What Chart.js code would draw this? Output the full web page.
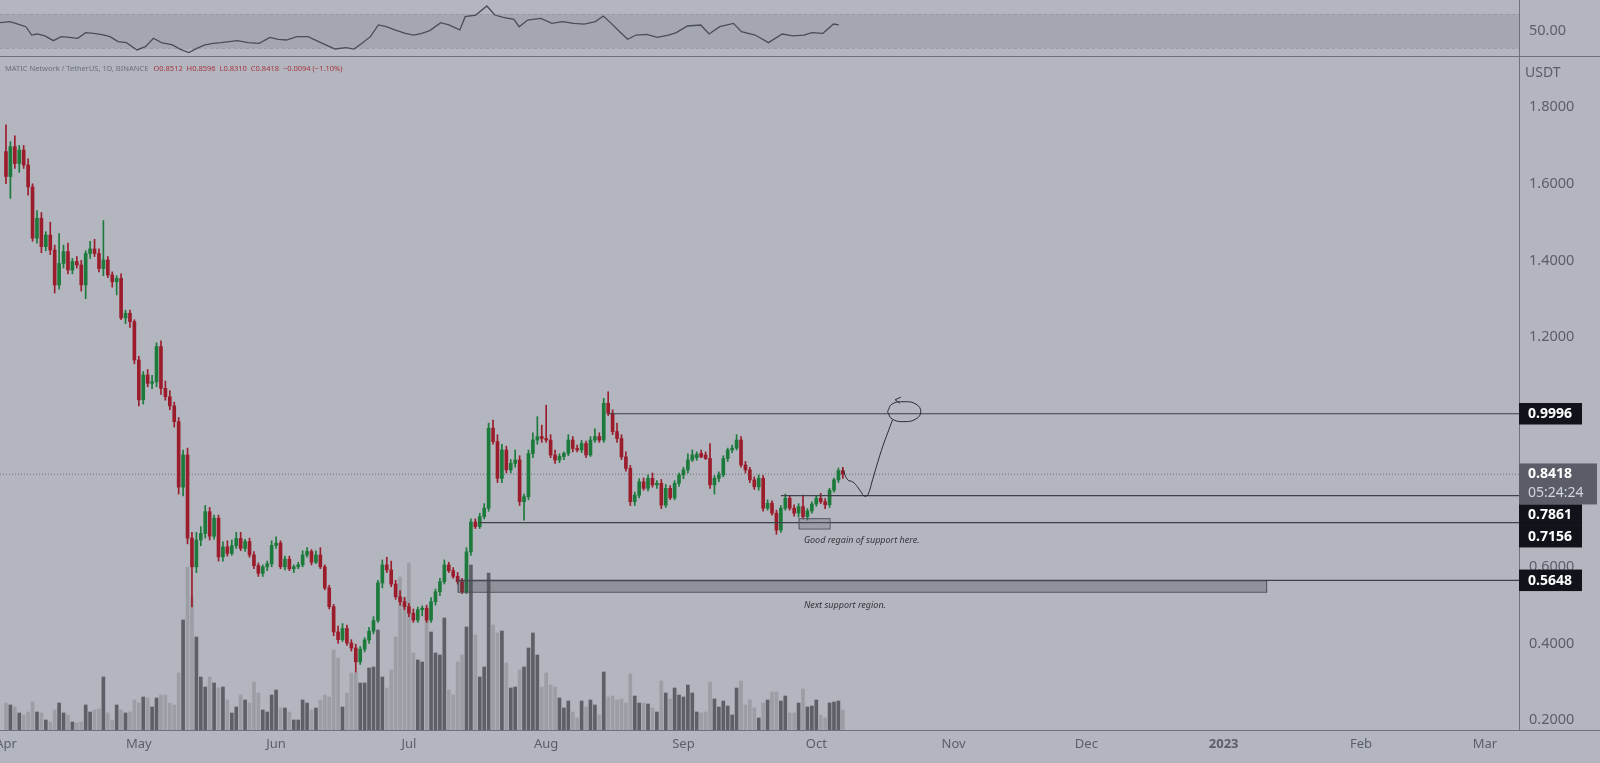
<!DOCTYPE html>
<html>
<head>
<meta charset="utf-8">
<title>MATIC / USDT 1D</title>
<script src="https://cdn.jsdelivr.net/npm/chart.js@4.4.1/dist/chart.umd.min.js"></script>
<style>
  body { margin: 0; background: #b3b5bf; }
  #page { position: relative; width: 1600px; height: 763px; overflow: hidden; background: #b3b5bf; }
  #rsiChart { position: absolute; left: 0; top: 0; }
  #mainChart { position: absolute; left: 0; top: 57px; }
  .legend { position: absolute; left: 5px; top: 63px; font: 7.5px 'Noto Sans', sans-serif; color: #6c6f7a; white-space: nowrap; }
  .legend .ohlc { color: #a73542; margin-left: 5px; }
  .unit { position: absolute; left: 1525px; top: 62px; font: 14px 'Noto Sans', sans-serif; color: #5a5d68; }
</style>
</head>
<body>
<div id="page">
  <canvas id="rsiChart" width="1600" height="57"></canvas>
  <canvas id="mainChart" width="1600" height="706"></canvas>
  <div class="legend">MATIC Network / TetherUS, 1D, BINANCE<span class="ohlc">O0.8512&nbsp; H0.8596&nbsp; L0.8310&nbsp; C0.8418&nbsp; −0.0094 (−1.10%)</span></div>
  <div class="unit">USDT</div>
</div>
<script>
// daily candles, index 0 = 1 Apr 2022
const monthTicks = [0, 30, 61, 91, 122, 153, 183, 214, 244, 275, 306, 334];
const monthLabels = ['Apr', 'May', 'Jun', 'Jul', 'Aug', 'Sep', 'Oct', 'Nov', 'Dec', '2023', 'Feb', 'Mar'];
const priceTicks = [0.2, 0.4, 0.6, 0.8, 1.0, 1.2, 1.4, 1.6, 1.8];
const rsiTicks = [50];

const opens = [
  1.684, 1.619, 1.697, 1.653, 1.688, 1.649, 1.592, 1.458, 1.510, 1.436,
  1.466, 1.427, 1.336, 1.392, 1.423, 1.375, 1.397, 1.388, 1.336, 1.418,
  1.430, 1.418, 1.379, 1.401, 1.362, 1.344, 1.353, 1.250, 1.262, 1.240,
  1.140, 1.036, 1.101, 1.079, 1.083, 1.175, 1.066, 1.044, 1.020, 0.979,
  0.808, 0.892, 0.675, 0.600, 0.670, 0.687, 0.744, 0.680, 0.727, 0.626,
  0.652, 0.635, 0.655, 0.674, 0.648, 0.666, 0.631, 0.603, 0.583, 0.600,
  0.608, 0.656, 0.662, 0.600, 0.620, 0.595, 0.600, 0.605, 0.631, 0.640,
  0.612, 0.631, 0.600, 0.545, 0.496, 0.430, 0.410, 0.439, 0.401, 0.388,
  0.352, 0.385, 0.409, 0.432, 0.460, 0.558, 0.605, 0.592, 0.555, 0.522,
  0.509, 0.496, 0.479, 0.461, 0.488, 0.492, 0.461, 0.509, 0.535, 0.561,
  0.605, 0.590, 0.575, 0.561, 0.535, 0.639, 0.717, 0.705, 0.731, 0.753,
  0.962, 0.927, 0.831, 0.905, 0.853, 0.870, 0.879, 0.770, 0.783, 0.896,
  0.931, 0.940, 0.935, 0.931, 0.892, 0.879, 0.888, 0.896, 0.931, 0.909,
  0.905, 0.922, 0.892, 0.931, 0.940, 0.931, 1.027, 1.001, 0.953, 0.935,
  0.887, 0.857, 0.770, 0.787, 0.822, 0.805, 0.831, 0.814, 0.818, 0.761,
  0.805, 0.780, 0.818, 0.840, 0.853, 0.879, 0.885, 0.896, 0.892, 0.883,
  0.814, 0.831, 0.840, 0.883, 0.905, 0.910, 0.931, 0.866, 0.853, 0.827,
  0.809, 0.831, 0.753, 0.766, 0.740, 0.696, 0.753, 0.779, 0.753, 0.740,
  0.757, 0.731, 0.746, 0.764, 0.779, 0.770, 0.762, 0.800, 0.827, 0.8512
];
const highs = [
  1.754, 1.710, 1.725, 1.700, 1.700, 1.665, 1.600, 1.530, 1.525, 1.475,
  1.500, 1.440, 1.470, 1.440, 1.445, 1.405, 1.410, 1.400, 1.425, 1.450,
  1.455, 1.430, 1.504, 1.410, 1.370, 1.360, 1.365, 1.270, 1.270, 1.245,
  1.150, 1.110, 1.115, 1.100, 1.185, 1.190, 1.085, 1.060, 1.030, 0.990,
  0.905, 0.910, 0.690, 0.690, 0.705, 0.760, 0.755, 0.735, 0.735, 0.665,
  0.668, 0.670, 0.690, 0.690, 0.672, 0.675, 0.640, 0.610, 0.605, 0.615,
  0.668, 0.678, 0.668, 0.628, 0.628, 0.605, 0.612, 0.642, 0.650, 0.645,
  0.642, 0.650, 0.605, 0.552, 0.502, 0.445, 0.452, 0.448, 0.410, 0.398,
  0.392, 0.415, 0.442, 0.470, 0.565, 0.618, 0.625, 0.615, 0.565, 0.538,
  0.520, 0.505, 0.490, 0.495, 0.498, 0.500, 0.520, 0.542, 0.570, 0.618,
  0.612, 0.598, 0.585, 0.570, 0.650, 0.725, 0.725, 0.740, 0.765, 0.975,
  0.983, 0.945, 0.920, 0.915, 0.880, 0.905, 0.890, 0.790, 0.905, 0.950,
  0.992, 0.970, 1.022, 0.945, 0.905, 0.895, 0.900, 0.945, 0.940, 0.918,
  0.930, 0.928, 0.940, 0.960, 0.950, 1.040, 1.057, 1.010, 0.975, 0.945,
  0.900, 0.865, 0.795, 0.830, 0.832, 0.840, 0.845, 0.825, 0.828, 0.815,
  0.812, 0.825, 0.845, 0.860, 0.895, 0.905, 0.900, 0.905, 0.900, 0.922,
  0.838, 0.848, 0.890, 0.910, 0.918, 0.945, 0.940, 0.875, 0.860, 0.835,
  0.840, 0.838, 0.775, 0.772, 0.748, 0.760, 0.790, 0.785, 0.762, 0.765,
  0.787, 0.752, 0.770, 0.785, 0.792, 0.778, 0.805, 0.832, 0.858, 0.8596
];
const lows = [
  1.600, 1.562, 1.640, 1.630, 1.640, 1.570, 1.450, 1.445, 1.420, 1.425,
  1.415, 1.315, 1.325, 1.380, 1.365, 1.365, 1.380, 1.320, 1.300, 1.405,
  1.410, 1.370, 1.360, 1.355, 1.330, 1.310, 1.245, 1.235, 1.225, 1.130,
  1.020, 1.025, 1.070, 1.065, 1.070, 1.050, 1.035, 1.010, 0.965, 0.790,
  0.785, 0.660, 0.495, 0.585, 0.655, 0.675, 0.670, 0.672, 0.615, 0.615,
  0.628, 0.630, 0.648, 0.642, 0.640, 0.625, 0.595, 0.575, 0.575, 0.590,
  0.600, 0.648, 0.595, 0.592, 0.590, 0.585, 0.595, 0.600, 0.625, 0.605,
  0.608, 0.595, 0.540, 0.490, 0.420, 0.400, 0.405, 0.395, 0.380, 0.325,
  0.345, 0.378, 0.400, 0.425, 0.455, 0.545, 0.585, 0.548, 0.515, 0.500,
  0.488, 0.470, 0.455, 0.455, 0.472, 0.455, 0.455, 0.500, 0.525, 0.555,
  0.585, 0.570, 0.555, 0.530, 0.530, 0.630, 0.700, 0.700, 0.725, 0.745,
  0.920, 0.820, 0.820, 0.845, 0.845, 0.860, 0.760, 0.722, 0.775, 0.885,
  0.920, 0.925, 0.925, 0.885, 0.870, 0.872, 0.880, 0.890, 0.900, 0.900,
  0.898, 0.885, 0.888, 0.925, 0.925, 0.925, 0.995, 0.945, 0.925, 0.880,
  0.850, 0.760, 0.760, 0.780, 0.800, 0.798, 0.808, 0.805, 0.752, 0.755,
  0.775, 0.775, 0.810, 0.830, 0.845, 0.875, 0.878, 0.885, 0.880, 0.805,
  0.790, 0.822, 0.835, 0.875, 0.898, 0.905, 0.860, 0.845, 0.820, 0.802,
  0.800, 0.745, 0.748, 0.735, 0.685, 0.690, 0.748, 0.748, 0.732, 0.730,
  0.725, 0.722, 0.740, 0.758, 0.765, 0.752, 0.755, 0.795, 0.820, 0.8310
];
const closes = [
  1.619, 1.697, 1.653, 1.688, 1.649, 1.592, 1.458, 1.510, 1.436, 1.466,
  1.427, 1.336, 1.392, 1.423, 1.375, 1.397, 1.388, 1.336, 1.418, 1.430,
  1.418, 1.379, 1.401, 1.362, 1.344, 1.353, 1.250, 1.262, 1.240, 1.140,
  1.036, 1.101, 1.079, 1.083, 1.175, 1.066, 1.044, 1.020, 0.979, 0.808,
  0.892, 0.675, 0.600, 0.670, 0.687, 0.744, 0.680, 0.727, 0.626, 0.652,
  0.635, 0.655, 0.674, 0.648, 0.666, 0.631, 0.603, 0.583, 0.600, 0.608,
  0.656, 0.662, 0.600, 0.620, 0.595, 0.600, 0.605, 0.631, 0.640, 0.612,
  0.631, 0.600, 0.545, 0.496, 0.430, 0.410, 0.439, 0.401, 0.388, 0.352,
  0.385, 0.409, 0.432, 0.460, 0.558, 0.605, 0.592, 0.555, 0.522, 0.509,
  0.496, 0.479, 0.461, 0.488, 0.492, 0.461, 0.509, 0.535, 0.561, 0.605,
  0.590, 0.575, 0.561, 0.535, 0.639, 0.717, 0.705, 0.731, 0.753, 0.962,
  0.927, 0.831, 0.905, 0.853, 0.870, 0.879, 0.770, 0.783, 0.896, 0.931,
  0.940, 0.935, 0.931, 0.892, 0.879, 0.888, 0.896, 0.931, 0.909, 0.905,
  0.922, 0.892, 0.931, 0.940, 0.931, 1.027, 1.001, 0.953, 0.935, 0.887,
  0.857, 0.770, 0.787, 0.822, 0.805, 0.831, 0.814, 0.818, 0.761, 0.805,
  0.780, 0.818, 0.840, 0.853, 0.879, 0.892, 0.894, 0.887, 0.883, 0.814,
  0.831, 0.840, 0.883, 0.905, 0.910, 0.931, 0.866, 0.853, 0.827, 0.809,
  0.831, 0.753, 0.766, 0.740, 0.696, 0.753, 0.779, 0.753, 0.740, 0.757,
  0.731, 0.746, 0.764, 0.779, 0.770, 0.762, 0.800, 0.827, 0.8512, 0.8418
];
// volume, millions MATIC
const volumes = [
  108, 100, 92, 68, 60, 72, 112, 72, 68, 40,
  32, 80, 108, 68, 60, 32, 28, 32, 100, 72,
  80, 84, 212, 68, 40, 100, 80, 68, 72, 120,
  108, 132, 128, 92, 128, 140, 140, 108, 100, 228,
  440, 652, 532, 372, 212, 172, 212, 188, 168, 172,
  120, 68, 92, 140, 120, 108, 192, 148, 80, 72,
  140, 160, 88, 88, 72, 40, 40, 120, 108, 80,
  88, 120, 140, 132, 320, 288, 92, 148, 228, 228,
  188, 188, 248, 252, 400, 212, 168, 240, 372, 612,
  532, 668, 308, 280, 272, 472, 392, 308, 300, 448,
  160, 140, 272, 300, 412, 660, 380, 212, 252, 628,
  420, 388, 396, 268, 168, 172, 240, 252, 328, 388,
  300, 172, 228, 180, 172, 128, 88, 116, 72, 48,
  116, 92, 120, 100, 60, 232, 132, 136, 120, 124,
  108, 224, 136, 108, 108, 104, 88, 72, 196, 148,
  124, 168, 140, 132, 180, 148, 72, 68, 72, 192,
  124, 92, 116, 96, 60, 168, 196, 100, 120, 88,
  48, 108, 120, 152, 152, 116, 136, 68, 68, 108,
  164, 92, 96, 120, 60, 48, 108, 112, 116, 80
];

// RSI(14)
const rsiDays = [
  -1.6, 0.9, 2.7, 4.5, 5.8, 7.0, 8.8, 10.7, 12.5, 14.3, 16.2, 18.0, 19.8, 21.7, 23.5, 25.3,
  27.2, 29.6, 31.5, 33.3, 35.1, 37.6, 39.4, 41.3, 43.1, 44.9, 46.8, 48.6, 50.4, 52.3, 54.7,
  57.2, 59.6, 61.5, 63.3, 65.7, 68.2, 70.6, 73.1, 74.3, 76.8, 78.6, 80.4, 82.3, 84.1, 85.9,
  87.8, 90.2, 92.1, 93.9, 95.7, 98.2, 100, 102.5, 103.7, 106.1, 108.6, 110.4, 112.3, 114.7,
  115.9, 117.8, 120.8, 123.3, 125.7, 128.2, 130.6, 133.1, 134.9, 136.7, 138.6, 140.4, 142.3,
  144.7, 147.1, 149.6, 151.4, 153.9, 156.9, 158.8, 161.2, 164.3, 166.1, 169.2, 172.2, 175.3,
  177.7, 180.2, 182, 184.5, 186.9, 188.1
];
const rsiValues = [
  59.9, 61.1, 58.3, 55.2, 45.5, 46.7, 44.4, 38.9, 43.6, 42.8, 41.7, 48.3, 47.5, 45.9, 43.6, 37.8,
  36.6, 28.1, 31.9, 41.7, 36.6, 33.9, 28.8, 25.0, 30.0, 33.9, 35.8, 36.6, 37.8, 38.9, 36.6,
  35.8, 42.8, 40.5, 39.7, 43.6, 43.6, 37.8, 31.9, 29.2, 30.8, 29.2, 35.8, 43.6, 57.2, 55.2,
  51.4, 47.5, 45.5, 47.5, 50.6, 59.9, 57.2, 51.4, 66.9, 68.8, 79.3, 68.8, 66.1, 63.8,
  55.2, 63.0, 64.9, 59.1, 61.1, 59.1, 58.3, 61.1, 67.7, 59.1, 49.4, 40.5, 45.5,
  46.3, 42.8, 45.5, 48.3, 56.0, 57.2, 46.7, 55.2, 59.1, 49.4, 45.5, 36.6, 46.7,
  44.4, 45.5, 48.3, 47.5, 58.3, 57.2
];

// drawn levels and zones
const levelPrices = [0.9996, 0.7861, 0.7156, 0.5648];
const levelStarts = [136, 175, 107, 102];
const supportZone = [102, 284.6, 0.535, 0.5648];
const regainZone = [179, 186, 0.700, 0.727];
const notes = ['Good regain of support here.', 'Next support region.'];
const noteDays = [180.2, 180.2];
const notePrices = [0.670, 0.500];

// hand drawn projection
const projDays = [189.0, 190.1, 191.2, 192.3, 193.3, 193.8, 194.6, 195.7, 196.9, 198.0, 199.1, 200.2];
const projPrices = [0.853, 0.827, 0.822, 0.809, 0.792, 0.785, 0.787, 0.827, 0.874, 0.914, 0.949, 0.983];
const loopDays = [199.1, 200.1, 202.8, 205.5, 206.6, 205.5, 202.8, 200.1, 199.1];
const loopPrices = [1.005, 1.025, 1.031, 1.025, 1.005, 0.986, 0.979, 0.986, 1.005];
const arrowDays = [202.1, 200.8, 201.9];
const arrowPrices = [1.043, 1.036, 1.027];

const C = {
  text: '#5b5e69', axis: '#6f727d',
  up: '#1c7a3b', down: '#9b1d2b', volUp: '#5e6068', volDown: '#9c9ea6',
  level: '#3e4049', draw: '#2b2c33', label: '#11131b', live: '#5a5d68'
};
const X_MIN = -1.35, X_MAX = 341.7;
const n = closes.length;
const idx = closes.map((c, i) => i);
const isUp = i => closes[i] >= opens[i];
const font = { family: 'Noto Sans', size: 14.5 };

// keep the plot area flush with the canvas edges
function noPad(s) {
  s.paddingTop = 0; s.paddingBottom = 0; s.paddingLeft = 0; s.paddingRight = 0;
}

function lineSet(xs, ys, extra) {
  return Object.assign({
    type: 'line',
    data: xs.map((x, i) => ({ x: x, y: ys[i] })),
    borderColor: C.draw,
    borderWidth: 1,
    pointRadius: 0,
    fill: false,
    order: 0
  }, extra || {});
}

const overlay = {
  id: 'overlay',
  afterDatasetsDraw(chart) {
    const { ctx, scales: { x, y } } = chart;
    ctx.save();
    // support zone
    const zx0 = x.getPixelForValue(supportZone[0]), zx1 = x.getPixelForValue(supportZone[1]);
    const zy0 = y.getPixelForValue(supportZone[3]), zy1 = y.getPixelForValue(supportZone[2]);
    ctx.fillStyle = 'rgba(70,72,82,0.32)';
    ctx.fillRect(zx0, zy0, zx1 - zx0, zy1 - zy0);
    ctx.strokeStyle = '#4a4c55';
    ctx.lineWidth = 1;
    ctx.strokeRect(zx0 + 0.5, zy0 + 0.5, zx1 - zx0, zy1 - zy0);
    // regain box
    const rx0 = x.getPixelForValue(regainZone[0]), rx1 = x.getPixelForValue(regainZone[1]);
    const ry0 = y.getPixelForValue(regainZone[3]), ry1 = y.getPixelForValue(regainZone[2]);
    ctx.fillStyle = 'rgba(90,92,102,0.25)';
    ctx.fillRect(rx0, ry0, rx1 - rx0, ry1 - ry0);
    ctx.strokeStyle = '#555761';
    ctx.strokeRect(rx0 + 0.5, ry0 + 0.5, rx1 - rx0, ry1 - ry0);
    // notes
    ctx.fillStyle = '#34363d';
    ctx.font = 'italic 9px "Noto Sans"';
    ctx.textBaseline = 'middle';
    notes.forEach((t, i) => ctx.fillText(t, x.getPixelForValue(noteDays[i]), y.getPixelForValue(notePrices[i])));
    ctx.restore();
  },
  afterDraw(chart) {
    const { ctx, chartArea, scales: { y } } = chart;
    ctx.save();
    // bottom separator across the whole width
    ctx.strokeStyle = C.axis;
    ctx.lineWidth = 1;
    ctx.beginPath();
    ctx.moveTo(0, chartArea.bottom + 0.5);
    ctx.lineTo(chart.width, chartArea.bottom + 0.5);
    ctx.stroke();
    // price labels on the axis
    const tags = levelPrices.map(p => ({ price: p, bg: C.label, w: 63 }));
    tags.push({ price: closes[n - 1], bg: C.live, w: 78, sub: '05:24:24' });
    tags.sort((a, b) => b.price - a.price);
    let bottom = -Infinity;
    const x0 = chartArea.right;
    ctx.textBaseline = 'middle';
    tags.forEach(t => {
      const h = t.sub ? 41 : 21.5;
      let top = y.getPixelForValue(t.price) - 10.75;
      if (top < bottom) top = bottom;
      ctx.fillStyle = t.bg;
      ctx.fillRect(x0, top, t.w, h);
      ctx.fillStyle = '#ffffff';
      ctx.font = 'bold 14px "Noto Sans"';
      ctx.fillText(t.price.toFixed(4), x0 + 9, top + 11);
      if (t.sub) {
        ctx.fillStyle = '#d3d5dc';
        ctx.font = '14px "Noto Sans"';
        ctx.fillText(t.sub, x0 + 9, top + 30);
      }
      bottom = top + h;
    });
    ctx.restore();
  }
};

new Chart(document.getElementById('mainChart'), {
  type: 'bar',
  data: {
    datasets: [
      {
        data: idx.map(i => ({ x: i, y: volumes[i] })),
        yAxisID: 'yVol',
        backgroundColor: c => isUp(c.dataIndex) ? C.volUp : C.volDown,
        barThickness: 3,
        grouped: false,
        order: 5
      },
      {
        data: idx.map(i => ({ x: i, y: [lows[i], highs[i]] })),
        backgroundColor: c => isUp(c.dataIndex) ? C.up : C.down,
        barThickness: 1,
        grouped: false,
        order: 3
      },
      {
        data: idx.map(i => ({ x: i, y: [opens[i], closes[i]] })),
        backgroundColor: c => isUp(c.dataIndex) ? C.up : C.down,
        barThickness: 3,
        minBarLength: 1,
        grouped: false,
        order: 2
      },
      lineSet([X_MIN, X_MAX], [closes[n - 1], closes[n - 1]], { borderColor: 'rgba(80,82,92,0.7)', borderDash: [1, 2], order: 4 }),
      ...levelPrices.map((p, k) => lineSet([levelStarts[k], X_MAX], [p, p], { borderColor: C.level, borderWidth: 1.2, order: 1 })),
      lineSet(projDays, projPrices, { tension: 0.4 }),
      lineSet(loopDays, loopPrices, { tension: 0.45 }),
      lineSet(arrowDays, arrowPrices)
    ]
  },
  options: {
    responsive: false,
    animation: false,
    events: [],
    layout: { padding: 0 },
    plugins: { legend: { display: false }, tooltip: { enabled: false } },
    scales: {
      x: {
        type: 'linear', min: X_MIN, max: X_MAX, offset: false,
        grid: { display: false, drawTicks: false },
        border: { display: false },
        afterBuildTicks: s => { s.ticks = monthTicks.map(v => ({ value: v })); },
        afterFit: s => { s.height = 33; noPad(s); },
        ticks: {
          autoSkip: false, maxRotation: 0, padding: 6, color: C.text,
          font: c => ({ family: 'Noto Sans', size: 13, weight: c.tick && c.tick.value === 275 ? 'bold' : 'normal' }),
          callback: (v, i) => monthLabels[i]
        }
      },
      y: {
        position: 'right', min: 0.174, max: 1.931, beginAtZero: false,
        grid: { display: false, drawTicks: false },
        border: { display: true, color: C.axis },
        afterBuildTicks: s => { s.ticks = priceTicks.map(v => ({ value: v })); },
        afterFit: s => { s.width = 81; noPad(s); },
        ticks: { padding: 10, color: C.text, font: font, callback: v => v.toFixed(4) }
      },
      yVol: { display: false, min: 0, max: 2692 }
    }
  },
  plugins: [overlay]
});

const rsiBand = {
  id: 'rsiBand',
  beforeDatasetsDraw(chart) {
    const { ctx, chartArea, scales: { y } } = chart;
    const top = y.getPixelForValue(70), bot = y.getPixelForValue(30);
    ctx.save();
    ctx.fillStyle = 'rgba(105,108,122,0.2)';
    ctx.fillRect(chartArea.left, top, chartArea.right - chartArea.left, bot - top);
    ctx.strokeStyle = 'rgba(150,152,162,0.9)';
    ctx.setLineDash([3, 3]);
    ctx.lineWidth = 1;
    [top, bot].forEach(v => {
      ctx.beginPath();
      ctx.moveTo(chartArea.left, Math.round(v) + 0.5);
      ctx.lineTo(chartArea.right, Math.round(v) + 0.5);
      ctx.stroke();
    });
    ctx.restore();
  },
  afterDraw(chart) {
    const { ctx } = chart;
    ctx.save();
    ctx.strokeStyle = C.axis;
    ctx.lineWidth = 1;
    ctx.beginPath();
    ctx.moveTo(0, chart.height - 0.5);
    ctx.lineTo(chart.width, chart.height - 0.5);
    ctx.stroke();
    ctx.restore();
  }
};

new Chart(document.getElementById('rsiChart'), {
  type: 'scatter',
  data: {
    datasets: [{
      data: rsiDays.map((d, i) => ({ x: d, y: rsiValues[i] })),
      showLine: true,
      borderColor: '#4b4d56',
      borderWidth: 1.3,
      pointRadius: 0
    }]
  },
  options: {
    responsive: false,
    animation: false,
    events: [],
    layout: { padding: 0 },
    plugins: { legend: { display: false }, tooltip: { enabled: false } },
    scales: {
      x: { type: 'linear', display: false, min: X_MIN, max: X_MAX },
      y: {
        position: 'right', min: 19.9, max: 86.3,
        grid: { display: false, drawTicks: false },
        border: { display: true, color: C.axis },
        afterBuildTicks: s => { s.ticks = rsiTicks.map(v => ({ value: v })); },
        afterFit: s => { s.width = 81; noPad(s); },
        ticks: { padding: 10, color: C.text, font: font, callback: v => v.toFixed(2) }
      }
    }
  },
  plugins: [rsiBand]
});
</script>
</body>
</html>
